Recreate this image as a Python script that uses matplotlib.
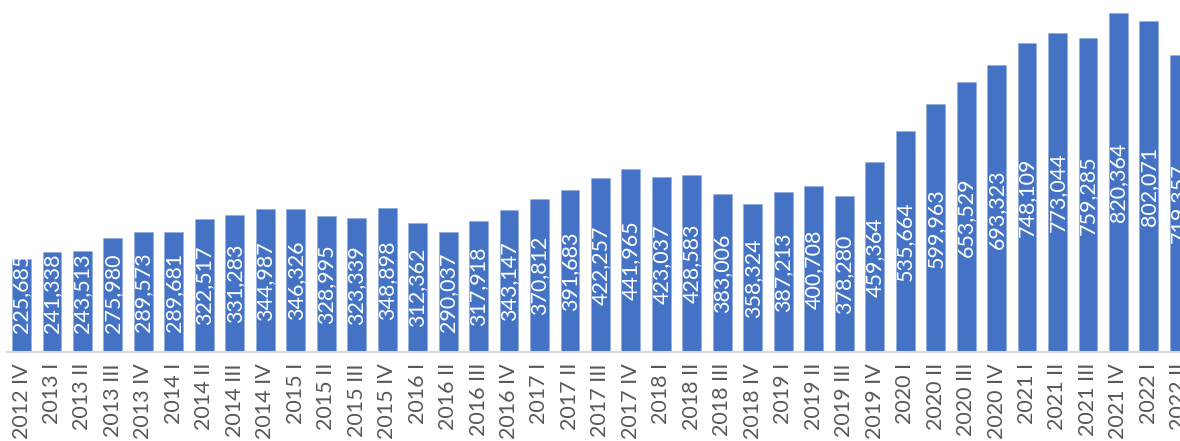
import numpy as np
import matplotlib.pyplot as plt

quarters = ["2012 IV", "2013 I", "2013 II", "2013 III", "2013 IV", "2014 I", "2014 II",
            "2014 III", "2014 IV", "2015 I", "2015 II", "2015 III", "2015 IV", "2016 I",
            "2016 II", "2016 III", "2016 IV", "2017 I", "2017 II", "2017 III", "2017 IV",
            "2018 I", "2018 II", "2018 III", "2018 IV", "2019 I", "2019 II", "2019 III",
            "2019 IV", "2020 I", "2020 II", "2020 III", "2020 IV", "2021 I", "2021 II",
            "2021 III", "2021 IV", "2022 I", "2022 II"]
values = [225685, 241338, 243513, 275980, 289573, 289681, 322517, 331283, 344987,
          346326, 328995, 323339, 348898, 312362, 290037, 317918, 343147, 370812,
          391683, 422257, 441965, 423037, 428583, 383006, 358324, 387213, 400708,
          378280, 459364, 535664, 599963, 653529, 693323, 748109, 773044, 759285,
          820364, 802071, 719357]

plt.rcParams['font.family'] = ['Lato', 'DejaVu Sans']

fig = plt.figure(figsize=(11.8, 4.41), dpi=100)
ax = fig.add_axes([0, 89 / 441, 1, 352 / 441])

x = np.arange(len(values))
ax.bar(x, values, width=0.62, color='#4472C4', edgecolor='#8faadc', linewidth=0.4)

# value labels, centred in the bar but kept off the base for short bars
for xi, v in zip(x, values):
    ax.text(xi, max(v / 2, 143000), f"{v:,}", rotation=90, ha='center', va='center',
            color='white', fontsize=15.5, clip_on=True)

ax.set_xlim(-21.5 / 30.47, (1180 - 21.5) / 30.47)
ax.set_ylim(0, 851800)
ax.set_xticks(x)
ax.set_xticklabels(quarters, rotation=90, va='top', ha='center', color='#595959', fontsize=15.5)
ax.tick_params(axis='x', length=0, pad=8)
ax.set_yticks([])
for s in ax.spines.values():
    s.set_visible(False)
ax.axhline(0, xmin=7 / 1180, xmax=1, color='#d9d9d9', linewidth=1.5, clip_on=False)

fig.savefig("out.png", dpi=100)
